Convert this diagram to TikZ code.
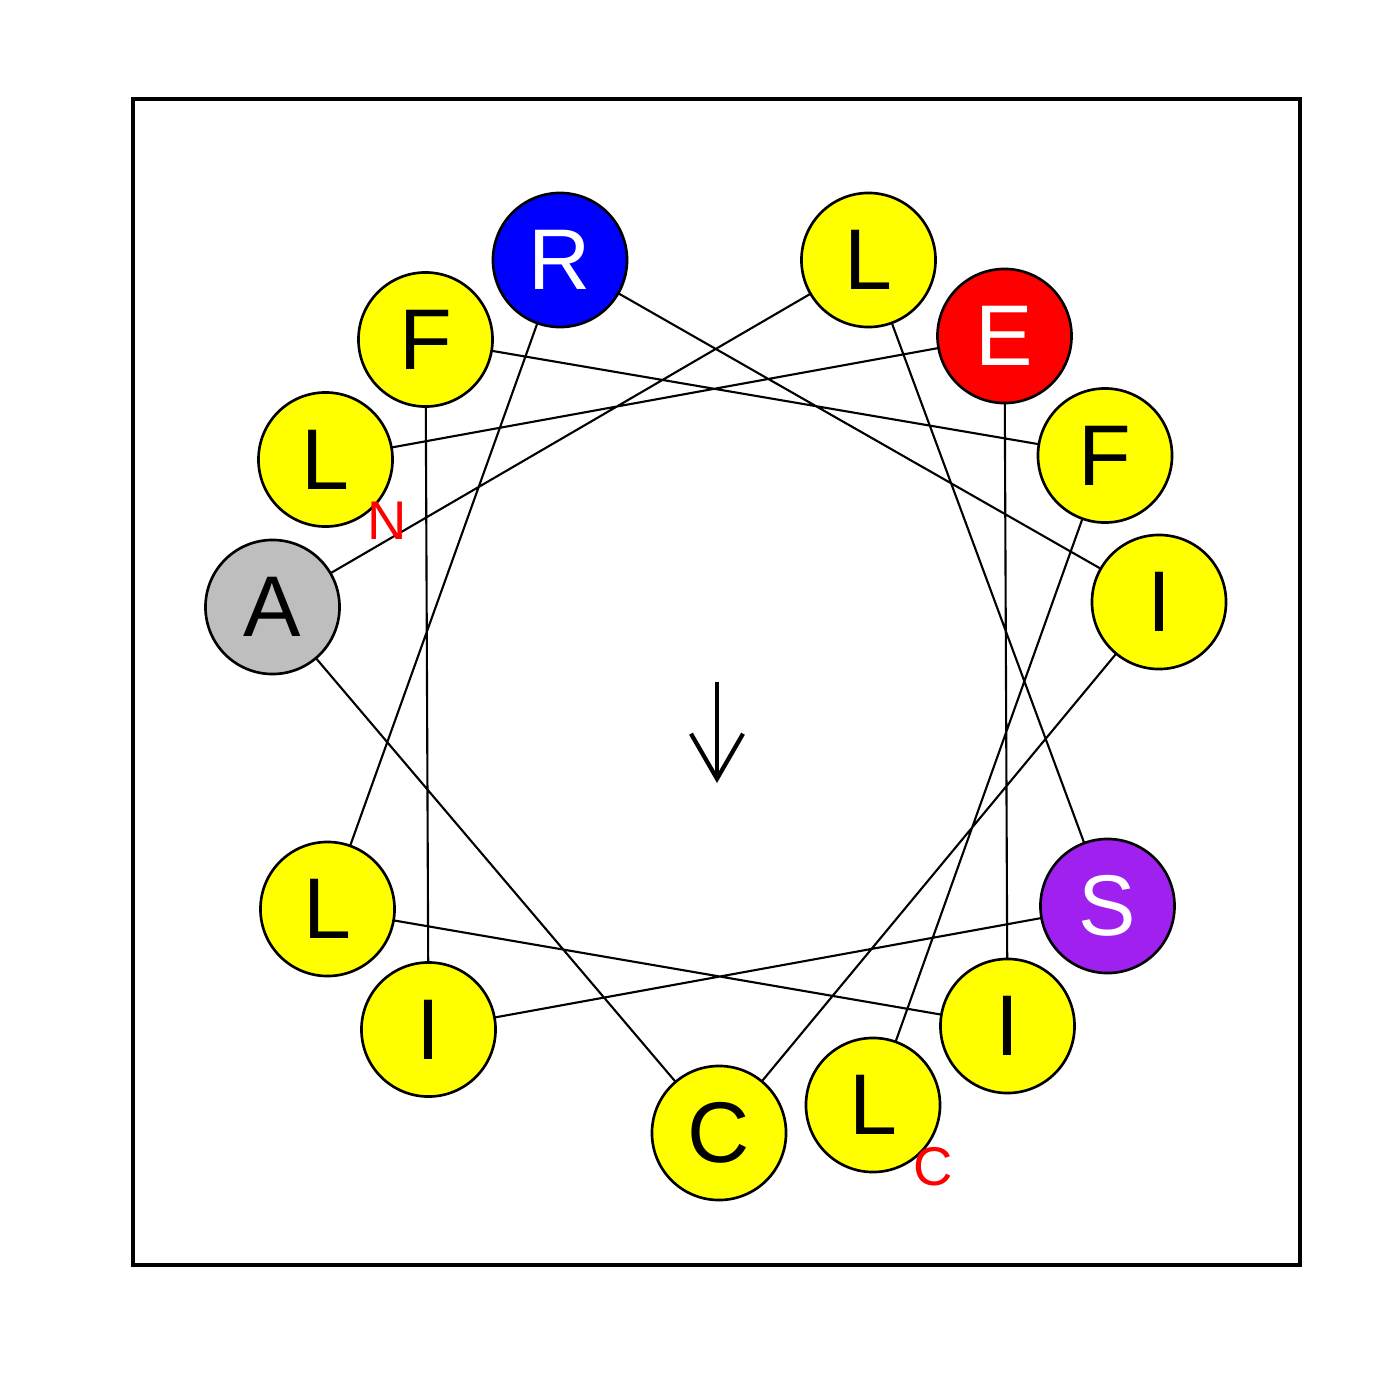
\documentclass[tikz,border=0pt]{standalone}
\usepackage{fontspec}
\setmainfont{Liberation Sans}
\usetikzlibrary{arrows.meta,backgrounds}
\definecolor{Hydro}{RGB}{255,255,0}
\definecolor{Basic}{RGB}{0,0,255}
\definecolor{Acid}{RGB}{255,0,0}
\definecolor{Polar}{RGB}{160,32,240}
\definecolor{Small}{RGB}{190,190,190}

\begin{document}
\begin{tikzpicture}[
      x=0.01cm, y=-0.01cm,
      res/.style={circle, draw=black, line width=0.75pt, minimum size=1.34cm,
                  inner sep=0pt, font=\fontsize{24.5}{24.5}\selectfont},
      hyd/.style={res, fill=Hydro, text=black},
      bas/.style={res, fill=Basic, text=white},
      aci/.style={res, fill=Acid, text=white},
      pol/.style={res, fill=Polar, text=white},
      sml/.style={res, fill=Small, text=black},
      link/.style={line width=0.6pt},
      term/.style={text=red, font=\fontsize{15.5}{15.5}\selectfont}
    ]
      \useasboundingbox (0,0) rectangle (1400,1400);
      \draw[line width=1pt] (133,99) rectangle (1300,1265);

      % residues, N to C
      \node[hyd] (r1)  at (325.5,459.5) {L};
      \node[aci] (r2)  at (1004.5,336)  {E};
      \node[hyd] (r3)  at (1007.5,1026) {I};
      \node[hyd] (r4)  at (327.5,909)   {L};
      \node[bas] (r5)  at (560,260)     {R};
      \node[hyd] (r6)  at (1159,602)    {I};
      \node[hyd] (r7)  at (719,1133)    {C};
      \node[sml] (r8)  at (272.5,607)   {A};
      \node[hyd] (r9)  at (868.5,260)   {L};
      \node[pol] (r10) at (1107.5,906)  {S};
      \node[hyd] (r11) at (428.5,1029.5) {I};
      \node[hyd] (r12) at (425.5,339.5) {F};
      \node[hyd] (r13) at (1105,455.5)  {F};
      \node[hyd] (r14) at (873,1105)    {L};

      \node[term] (nt) at (387,521)  {N};
      \node[term] (ct) at (933,1167) {C};

      \begin{scope}[on background layer]
        \draw[link] (r1.center) -- (r2.center) -- (r3.center) -- (r4.center)
          -- (r5.center) -- (r6.center) -- (r7.center) -- (r8.center)
          -- (r9.center) -- (r10.center) -- (r11.center) -- (r12.center)
          -- (r13.center) -- (r14.center);
      \end{scope}

      % moment
      \coordinate (m0) at (717,682);
      \coordinate (m1) at (717,783);
      \draw[line width=1.2pt, -{Straight Barb[angle=60:0.52cm]}] (m0) -- (m1);
    \end{tikzpicture}
\end{document}
